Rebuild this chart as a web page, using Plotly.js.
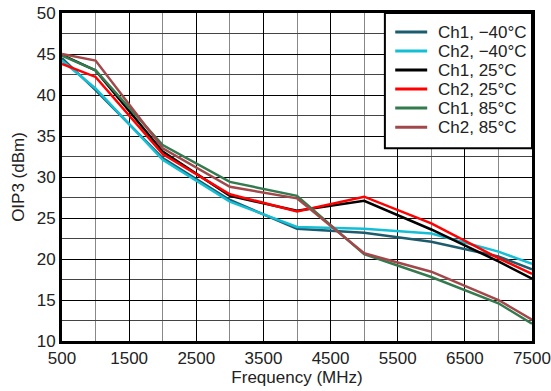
<!DOCTYPE html>
<html>
<head>
<meta charset="utf-8">
<script src="https://cdn.plot.ly/plotly-3.0.1.min.js"></script>
<style>html,body{margin:0;padding:0;background:#fff;}#chart{width:551px;height:391px;}</style>
</head>
<body>
<div id="chart"></div>
<script>
const freq = [500, 1000, 2000, 3000, 4000, 5000, 6000, 7000, 7500];
const ch1_m40 = [44.5, 40.6, 32.3, 27.2, 23.7, 23.2, 22.1, 20.3, 18.75];
const ch2_m40 = [44.2, 40.8, 32.1, 27.0, 23.9, 23.7, 23.1, 20.9, 19.4];
const ch1_25 = [44.9, 43.0, 33.1, 27.7, 25.9, 27.1, 23.6, 19.7, 17.6];
const ch2_25 = [43.8, 42.2, 32.8, 27.9, 25.8, 27.6, 24.35, 20.1, 18.2];
const ch1_85 = [44.8, 43.0, 33.9, 29.4, 27.7, 20.6, 17.8, 14.6, 12.1];
const ch2_85 = [45.0, 44.2, 33.5, 28.8, 27.4, 20.7, 18.45, 15.0, 12.6];
const names = ["Ch1, \u221240\u00B0C", "Ch2, \u221240\u00B0C", "Ch1, 25\u00B0C", "Ch2, 25\u00B0C", "Ch1, 85\u00B0C", "Ch2, 85\u00B0C"];
const series = [ch1_m40, ch2_m40, ch1_25, ch2_25, ch1_85, ch2_85];
const colors = ["#1d5c6e", "#14bfd6", "#000000", "#ff0000", "#337a4f", "#a3484a"];

const traces = series.map((ys, i) => ({
  x: freq, y: ys, name: names[i], type: "scatter", mode: "lines",
  line: {color: colors[i], width: 2.5}, showlegend: false
}));

const FAM = "Liberation Sans, Arial, sans-serif";
const TXT = "#222";
const FS = 17;

// Custom legend (compact row spacing like the reference), in paper coordinates
const shapes = [{
  type: "rect", xref: "paper", yref: "paper", x0: 0.687, x1: 1.0, y0: 0.588, y1: 1.0,
  fillcolor: "#fff", line: {color: "#000", width: 2}, layer: "above"
}];
const annotations = [];
const rowTop = 0.942, rowStep = 0.058;
names.forEach((n, i) => {
  const yy = rowTop - i * rowStep;
  shapes.push({type: "line", xref: "paper", yref: "paper", x0: 0.709, x1: 0.777, y0: yy, y1: yy,
    line: {color: colors[i], width: 3}, layer: "above"});
  annotations.push({xref: "paper", yref: "paper", x: 0.796, y: yy, xanchor: "left", yanchor: "middle",
    text: n, showarrow: false, font: {family: FAM, size: FS, color: TXT}});
});

const layout = {
  width: 551, height: 391,
  margin: {l: 62, r: 19, t: 13, b: 50},
  paper_bgcolor: "#fff", plot_bgcolor: "#fff",
  font: {family: FAM, size: FS, color: TXT},
  showlegend: false,
  shapes: shapes, annotations: annotations,
  xaxis: {
    range: [500, 7500], tick0: 500, dtick: 1000, ticks: "",
    showgrid: true, gridcolor: "#000", gridwidth: 1,
    minor: {tick0: 500, dtick: 500, showgrid: true, gridcolor: "#888", gridwidth: 1},
    showline: true, linecolor: "#000", linewidth: 3, mirror: true, zeroline: false,
    tickfont: {family: FAM, size: FS, color: TXT},
    title: {text: "Frequency (MHz)", font: {family: FAM, size: FS, color: TXT}, standoff: 3}
  },
  yaxis: {
    range: [10, 50], tick0: 10, dtick: 5, ticks: "",
    showgrid: true, gridcolor: "#000", gridwidth: 1,
    minor: {tick0: 10, dtick: 2.5, showgrid: true, gridcolor: "#444", gridwidth: 1},
    showline: true, linecolor: "#000", linewidth: 3, mirror: true, zeroline: false,
    tickfont: {family: FAM, size: FS, color: TXT},
    title: {text: "OIP3 (dBm)", font: {family: FAM, size: FS, color: TXT}, standoff: 8}
  }
};
Plotly.newPlot("chart", traces, layout, {displayModeBar: false, staticPlot: true});
</script>
</body>
</html>
